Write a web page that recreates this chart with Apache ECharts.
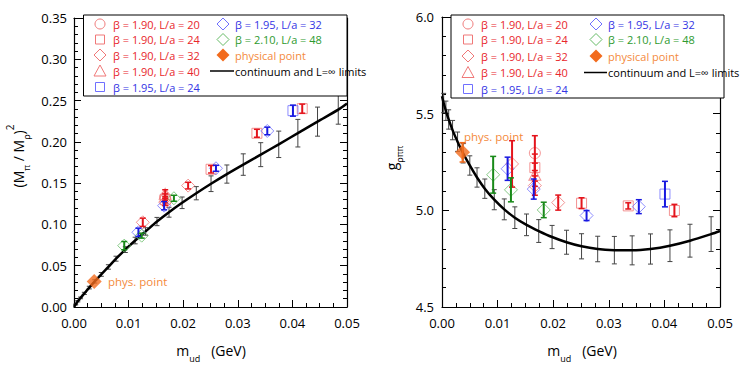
<!DOCTYPE html>
<html><head><meta charset="utf-8">
<script src="https://cdn.jsdelivr.net/npm/echarts@6/dist/echarts.min.js"></script>
<style>html,body{margin:0;padding:0;background:#fff}#c{width:742px;height:366px}</style>
</head><body><div id="c"></div>
<script>
// ---------------- data ----------------
// continuum & L=inf limit curves
const curveM = [0, 0.0003, 0.0007, 0.0012, 0.0019, 0.0028, 0.0038, 0.0050, 0.0063, 0.0077, 0.0094, 0.0112, 0.0131, 0.0152, 0.0174, 0.0198, 0.0224, 0.0251, 0.0280, 0.0310, 0.0342, 0.0375, 0.0410, 0.0446, 0.0484, 0.0500];
const ratioCurve = [0, 0.003, 0.007, 0.011, 0.0165, 0.0235, 0.031, 0.0395, 0.0485, 0.0585, 0.0695, 0.0805, 0.0915, 0.1035, 0.1148, 0.1262, 0.1378, 0.1493, 0.1610, 0.1725, 0.1845, 0.1970, 0.2105, 0.2245, 0.2390, 0.2465];
const ratioCurveErr = [null, 0.0005, 0.0008, 0.001, 0.0013, 0.0016, 0.002, 0.0023, 0.0027, 0.003, 0.0035, 0.004, 0.0045, 0.005, 0.006, 0.007, 0.008, 0.0095, 0.011, 0.013, 0.0145, 0.016, 0.0167, 0.0176, 0.0176, null];
const gCurve = [5.59, 5.555, 5.515, 5.47, 5.415, 5.355, 5.295, 5.232, 5.17, 5.112, 5.055, 5.005, 4.962, 4.925, 4.893, 4.862, 4.835, 4.814, 4.800, 4.794, 4.793, 4.800, 4.817, 4.843, 4.877, 4.893];
const gCurveErr = [null, 0.05, 0.05, 0.05, 0.05, 0.05, 0.05, 0.05, 0.05, 0.05, 0.052, 0.054, 0.056, 0.056, 0.059, 0.060, 0.062, 0.065, 0.066, 0.071, 0.075, 0.078, 0.082, 0.085, 0.09, null];

// lattice ensembles: m_ud, (Mpi/Mrho)^2 +- err, g_rhopipi +- err
const b190L20_m = [0.0167];
const b190L20_ratio = [0.133];  const b190L20_ratioErr = [0.004];
const b190L20_g = [5.296];      const b190L20_gErr = [0.09];

const b190L24_m = [0.0167, 0.0251, 0.0335, 0.0418];
const b190L24_ratio = [0.130, 0.1668, 0.2104, 0.2402]; const b190L24_ratioErr = [0.004, 0.0045, 0.0048, 0.0055];
const b190L24_g = [5.221, 5.037, 5.023, 4.999];        const b190L24_gErr = [0.07, 0.028, 0.016, 0.032];

const b190L32_m = [0.0126, 0.0167, 0.0209];
const b190L32_ratio = [0.1026, 0.127, 0.147]; const b190L32_ratioErr = [0.005, 0.004, 0.004];
const b190L32_g = [5.24, 5.128, 5.04];        const b190L32_gErr = [0.12, 0.05, 0.039];

const b190L40_m = [0.0167];
const b190L40_ratio = [0.137]; const b190L40_ratioErr = [0.005];
const b190L40_g = [5.184];     const b190L40_gErr = [0.06];

const b195L24_m = [0.0401];
const b195L24_ratio = [0.2378]; const b195L24_ratioErr = [0.0067];
const b195L24_g = [5.084];      const b195L24_gErr = [0.066];

const b195L32_m = [0.0118, 0.0165, 0.0260, 0.0354];
const b195L32_ratio = [0.0905, 0.1227, 0.168, 0.2132]; const b195L32_ratioErr = [0.005, 0.005, 0.0036, 0.0046];
const b195L32_g = [5.215, 5.11, 4.973, 5.019];         const b195L32_gErr = [0.06, 0.052, 0.026, 0.036];

const b210L48_m = [0.0092, 0.0124, 0.0183];
const b210L48_ratio = [0.0743, 0.0864, 0.1317]; const b210L48_ratioErr = [0.005, 0.003, 0.0036];
const b210L48_g = [5.184, 5.106, 5.002];        const b210L48_gErr = [0.095, 0.062, 0.04];

const phys_m = [0.0037];
const phys_ratio = [0.031]; const phys_ratioErr = [0];
const phys_g = [5.30];      const phys_gErr = [0.05];

const xTickLabels = ['0.00', '0.01', '0.02', '0.03', '0.04', '0.05'];
const ratioTickLabels = ['0.00', '0.05', '0.10', '0.15', '0.20', '0.25', '0.30', '0.35'];
const gTickLabels = ['4.5', '5.0', '5.5', '6.0'];

const legendLabels = ['β = 1.90, L/a = 20', 'β = 1.90, L/a = 24', 'β = 1.90, L/a = 32', 'β = 1.90, L/a = 40', 'β = 1.95, L/a = 24', 'β = 1.95, L/a = 32', 'β = 2.10, L/a = 48', 'physical point', 'continuum and L=∞ limits'];

// ---------------- styling ----------------
const FONT = 'Open Sans';
const RED_S = '#f07878', RED_B = '#e4141c', RED_T = '#e8262b';
const BLUE_S = '#7070ff', BLUE_B = '#1818e0', BLUE_T = '#3434e4';
const GREEN_S = '#66bb66', GREEN_B = '#188a18', GREEN_T = '#2e9a2e';
const ORANGE = '#f26b1d', ORANGE_T = '#f48a3c';

const chart = echarts.init(document.getElementById('c'), null, {renderer: 'svg'});

function zip3(m, v, e) { const out = []; for (let i = 0; i < m.length; i++) if (e[i] !== null) out.push([m[i], v[i], e[i]]); return out; }
function zip2(m, v) { return m.map((x, i) => [x, v[i]]); }

function errSeries(data, xi, yi, color, lw, cap, z) {
  return {
    type: 'custom', xAxisIndex: xi, yAxisIndex: yi, data: data, z: z, silent: true,
    encode: {x: 0, y: 1},
    renderItem: function (params, api) {
      const x = api.value(0), y = api.value(1), e = api.value(2);
      if (!e) return null;
      const p1 = api.coord([x, y + e]), p2 = api.coord([x, y - e]);
      const st = {stroke: color, lineWidth: lw, fill: null};
      const sc = {stroke: color, lineWidth: Math.max(1, lw - 0.5), fill: null};
      return {type: 'group', children: [
        {type: 'line', shape: {x1: p1[0], y1: p1[1], x2: p2[0], y2: p2[1]}, style: st},
        {type: 'line', shape: {x1: p1[0] - cap, y1: p1[1], x2: p1[0] + cap, y2: p1[1]}, style: sc},
        {type: 'line', shape: {x1: p2[0] - cap, y1: p2[1], x2: p2[0] + cap, y2: p2[1]}, style: sc}
      ]};
    }
  };
}
function symSeries(data, xi, yi, symbol, size, color, filled, z) {
  return {
    type: 'scatter', xAxisIndex: xi, yAxisIndex: yi, data: data, symbol: symbol, symbolSize: size, z: z, silent: true,
    itemStyle: filled ? {color: color} : {color: 'rgba(0,0,0,0)', borderColor: color, borderWidth: 1}
  };
}

const ensembles = [
  {m: b190L20_m, r: b190L20_ratio, re: b190L20_ratioErr, g: b190L20_g, ge: b190L20_gErr, sym: 'circle', size: 11, sc: RED_S, bc: RED_B},
  {m: b190L24_m, r: b190L24_ratio, re: b190L24_ratioErr, g: b190L24_g, ge: b190L24_gErr, sym: 'rect', size: 10, sc: RED_S, bc: RED_B},
  {m: b190L32_m, r: b190L32_ratio, re: b190L32_ratioErr, g: b190L32_g, ge: b190L32_gErr, sym: 'diamond', size: [13, 13], sc: RED_S, bc: RED_B},
  {m: b190L40_m, r: b190L40_ratio, re: b190L40_ratioErr, g: b190L40_g, ge: b190L40_gErr, sym: 'triangle', size: [12, 11], sc: RED_S, bc: RED_B},
  {m: b195L24_m, r: b195L24_ratio, re: b195L24_ratioErr, g: b195L24_g, ge: b195L24_gErr, sym: 'rect', size: 10, sc: BLUE_S, bc: BLUE_B},
  {m: b195L32_m, r: b195L32_ratio, re: b195L32_ratioErr, g: b195L32_g, ge: b195L32_gErr, sym: 'diamond', size: [13, 13], sc: BLUE_S, bc: BLUE_B},
  {m: b210L48_m, r: b210L48_ratio, re: b210L48_ratioErr, g: b210L48_g, ge: b210L48_gErr, sym: 'diamond', size: [13, 13], sc: GREEN_S, bc: GREEN_B}
];

const series = [];
// grey band error bars + curves
series.push(errSeries(zip3(curveM, ratioCurve, ratioCurveErr), 0, 0, '#444', 1, 2.5, 1));
series.push(errSeries(zip3(curveM, gCurve, gCurveErr), 2, 2, '#444', 1, 2.5, 1));
series.push({type: 'line', xAxisIndex: 0, yAxisIndex: 0, data: zip2(curveM, ratioCurve), smooth: 0.3, symbol: 'none', lineStyle: {color: '#000', width: 2.5}, z: 2, silent: true});
series.push({type: 'line', xAxisIndex: 2, yAxisIndex: 2, data: zip2(curveM, gCurve), smooth: 0.3, symbol: 'none', lineStyle: {color: '#000', width: 2.5}, z: 2, silent: true});
ensembles.forEach(e => {
  series.push(symSeries(zip2(e.m, e.r), 0, 0, e.sym, e.size, e.sc, false, 3));
  series.push(symSeries(zip2(e.m, e.g), 2, 2, e.sym, e.size, e.sc, false, 3));
  series.push(errSeries(zip3(e.m, e.r, e.re), 0, 0, e.bc, 2, 3, 4));
  series.push(errSeries(zip3(e.m, e.g, e.ge), 2, 2, e.bc, 2, 3, 4));
});
series.push(errSeries(zip3(phys_m, phys_g, phys_gErr), 2, 2, ORANGE, 2, 3, 5));
series.push(symSeries(zip2(phys_m, phys_ratio), 0, 0, 'diamond', [15, 15], ORANGE, true, 6));
series.push(symSeries(zip2(phys_m, phys_g), 2, 2, 'diamond', [15, 15], ORANGE, true, 6));

// ---------------- axes ----------------
function xAx(grid, pos, labels) {
  return {type: 'value', gridIndex: grid, position: pos, min: 0, max: 0.05, interval: 0.01,
    axisLine: {show: true, onZero: false, lineStyle: {color: '#000', width: 1.2}},
    axisTick: {show: true, inside: true, length: 7, lineStyle: {color: '#000'}},
    minorTick: {show: true, splitNumber: 4, length: 4, lineStyle: {color: '#000'}},
    splitLine: {show: false}, minorSplitLine: {show: false},
    axisLabel: {show: labels, margin: 9, color: '#000', fontFamily: FONT, fontSize: 13,
      formatter: v => xTickLabels[Math.round(v / 0.01)]}
  };
}
function yAx(grid, pos, labels, min, max, itv, split, lab, margin) {
  return {type: 'value', gridIndex: grid, position: pos, min: min, max: max, interval: itv,
    axisLine: {show: true, onZero: false, lineStyle: {color: '#000', width: 1.2}},
    axisTick: {show: true, inside: true, length: 7, lineStyle: {color: '#000'}},
    minorTick: {show: true, splitNumber: split, length: 4, lineStyle: {color: '#000'}},
    splitLine: {show: false}, minorSplitLine: {show: false},
    axisLabel: {show: labels, margin: margin, color: '#000', fontFamily: FONT, fontSize: 13,
      formatter: v => lab[Math.round((v - min) / itv)]}
  };
}

// ---------------- legend graphics ----------------
const LFONT = '11px "' + FONT + '"';
function legendSym(kind, cx, cy, color) {
  const st = {stroke: color, fill: null, lineWidth: 1};
  if (kind === 'circle') return {type: 'circle', shape: {cx: cx, cy: cy, r: 5}, style: st, z: 101};
  if (kind === 'rect') return {type: 'rect', shape: {x: cx - 4.5, y: cy - 4.5, width: 9, height: 9}, style: st, z: 101};
  if (kind === 'diamond') return {type: 'polygon', shape: {points: [[cx, cy - 6], [cx + 6, cy], [cx, cy + 6], [cx - 6, cy]]}, style: st, z: 101};
  if (kind === 'triangle') return {type: 'polygon', shape: {points: [[cx, cy - 6], [cx + 6, cy + 5], [cx - 6, cy + 5]]}, style: st, z: 101};
  if (kind === 'fdiamond') return {type: 'polygon', shape: {points: [[cx, cy - 6.5], [cx + 6.5, cy], [cx, cy + 6.5], [cx - 6.5, cy]]}, style: {fill: color}, z: 101};
}
function legendText(txt, x, y, color) {
  return {type: 'text', x: x, y: y, z: 101, style: {text: txt, fill: color, font: LFONT, align: 'left', verticalAlign: 'middle'}};
}
function legend(box, c1s, c1t, c2s, c2t, rows, lineX0) {
  const g = [];
  g.push({type: 'rect', shape: box, style: {fill: '#fff', stroke: '#000', lineWidth: 1}, z: 100});
  const col1 = [['circle', RED_S, RED_T], ['rect', RED_S, RED_T], ['diamond', RED_S, RED_T], ['triangle', RED_S, RED_T], ['rect', BLUE_S, BLUE_T]];
  col1.forEach((c, i) => { g.push(legendSym(c[0], c1s, rows[i], c[1])); g.push(legendText(legendLabels[i], c1t, rows[i], c[2])); });
  const col2 = [['diamond', BLUE_S, BLUE_T], ['diamond', GREEN_S, GREEN_T], ['fdiamond', ORANGE, ORANGE_T]];
  col2.forEach((c, i) => { g.push(legendSym(c[0], c2s, rows[i], c[1])); g.push(legendText(legendLabels[5 + i], c2t, rows[i], c[2])); });
  g.push({type: 'line', shape: {x1: lineX0, y1: rows[3], x2: c2t - 1, y2: rows[3]}, style: {stroke: '#000', lineWidth: 1.5}, z: 101});
  g.push(legendText(legendLabels[8], c2t, rows[3], '#000'));
  return g;
}

const graphics = []
  .concat(legend({x: 83.5, y: 15, width: 263.5, height: 81}, 100, 113, 223, 235, [24, 39.5, 55, 71, 87], 210))
  .concat(legend({x: 451, y: 15, width: 273, height: 83}, 468, 481, 596, 608, [24, 39.5, 56, 72.5, 89], 584));

const richAx = {
  n: {fontSize: 14, fontFamily: FONT, color: '#000', lineHeight: 26, verticalAlign: 'middle'},
  s: {fontSize: 9, fontFamily: FONT, color: '#000', lineHeight: 26, verticalAlign: 'bottom'},
  p: {fontSize: 10, fontFamily: FONT, color: '#000', lineHeight: 26, verticalAlign: 'top'}
};
graphics.push({type: 'text', x: 18, y: 156, rotation: Math.PI / 2, style: {text: '{n|(M}{s|π}{n| / M}{s|ρ}{n|)}{p|2}', rich: richAx, align: 'center', verticalAlign: 'middle'}});
graphics.push({type: 'text', x: 391, y: 158, rotation: Math.PI / 2, style: {text: '{n|g}{s|ρππ}', rich: richAx, align: 'center', verticalAlign: 'middle'}});
graphics.push({type: 'text', x: 211, y: 350, style: {text: '{n|m}{s|ud}{n|   (GeV)}', rich: richAx, align: 'center', verticalAlign: 'middle'}});
graphics.push({type: 'text', x: 582, y: 350, style: {text: '{n|m}{s|ud}{n|   (GeV)}', rich: richAx, align: 'center', verticalAlign: 'middle'}});
graphics.push({type: 'text', x: 108, y: 281, style: {text: 'phys. point', fill: ORANGE_T, font: '11.5px "' + FONT + '"', align: 'left', verticalAlign: 'middle'}});
graphics.push({type: 'text', x: 464, y: 136, style: {text: 'phys. point', fill: ORANGE_T, font: '11.5px "' + FONT + '"', align: 'left', verticalAlign: 'middle'}});

chart.setOption({
  animation: false,
  backgroundColor: '#fff',
  grid: [
    {left: 74, top: 18, width: 273, height: 289},
    {left: 442, top: 17, width: 278, height: 290}
  ],
  xAxis: [xAx(0, 'bottom', true), xAx(0, 'top', false), xAx(1, 'bottom', true), xAx(1, 'top', false)],
  yAxis: [
    yAx(0, 'left', true, 0, 0.35, 0.05, 5, ratioTickLabels, 7),
    yAx(0, 'right', false, 0, 0.35, 0.05, 5, ratioTickLabels, 7),
    yAx(1, 'left', true, 4.5, 6.0, 0.5, 5, gTickLabels, 8),
    yAx(1, 'right', false, 4.5, 6.0, 0.5, 5, gTickLabels, 8)
  ],
  series: series,
  graphic: graphics
});
</script></body></html>
